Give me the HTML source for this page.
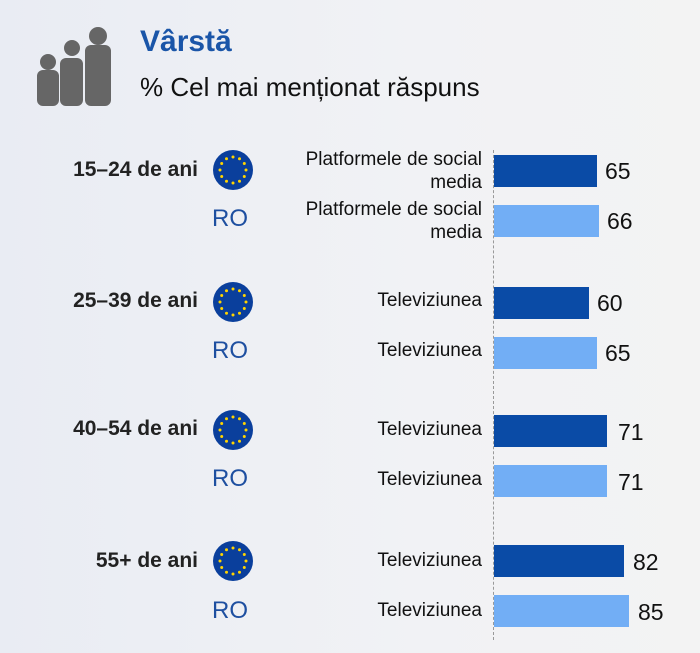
<!DOCTYPE html>
<html><head><meta charset="utf-8"><style>
body{margin:0;width:700px;height:653px;overflow:hidden;background:linear-gradient(90deg,#e9ecf3 0%,#f1f2f5 60%,#f3f3f3 100%);font-family:"Liberation Sans",sans-serif;position:relative}
.a{position:absolute}
.age{font-weight:bold;font-size:21px;color:#222;text-align:right;width:180px;left:18px}
.ro{font-size:24px;color:#1e4fa0;left:212px}
.lab{font-size:19px;color:#111;text-align:right;width:240px;left:242px;line-height:23px}
.bar{left:494px;height:32px}
.d{background:#0a4ba6}.l{background:#72aef5}
.v{font-size:23px;color:#111}
</style></head><body>
<svg class="a" style="left:34px;top:26px" width="82" height="80" viewBox="0 0 82 80">
<g fill="#666">
<circle cx="14" cy="36" r="8"/><rect x="3" y="44" width="22" height="36" rx="6"/>
<circle cx="38" cy="22" r="8"/><rect x="26" y="32" width="23" height="48" rx="6"/>
<circle cx="64" cy="10" r="9"/><rect x="51" y="19" width="26" height="61" rx="6"/>
</g></svg>
<div class="a" style="left:140px;top:25px;font-size:30px;font-weight:bold;color:#1a55a8">Vârstă</div>
<div class="a" style="left:140px;top:72px;font-size:26px;color:#111">% Cel mai menționat răspuns</div>
<div class="a" style="left:493px;top:150px;height:490px;border-left:1px dashed #999"></div>

<svg width="0" height="0" style="position:absolute"><defs><g id="eu"><circle r="20" fill="#0a3f9c"/><g fill="#ffd400"><circle cx="0" cy="-13" r="1.5"/><circle cx="6.5" cy="-11.3" r="1.5"/><circle cx="11.3" cy="-6.5" r="1.5"/><circle cx="13" cy="0" r="1.5"/><circle cx="11.3" cy="6.5" r="1.5"/><circle cx="6.5" cy="11.3" r="1.5"/><circle cx="0" cy="13" r="1.5"/><circle cx="-6.5" cy="11.3" r="1.5"/><circle cx="-11.3" cy="6.5" r="1.5"/><circle cx="-13" cy="0" r="1.5"/><circle cx="-11.3" cy="-6.5" r="1.5"/><circle cx="-6.5" cy="-11.3" r="1.5"/></g></g></defs></svg>

<div class="a age" style="top:158px">15–24 de ani</div>
<svg class="a" style="left:213px;top:150px" width="40" height="40"><use href="#eu" x="20" y="20"/></svg>
<div class="a ro" style="top:205px">RO</div>
<div class="a lab" style="top:148px">Platformele de social<br>media</div>
<div class="a bar d" style="top:155px;width:103px"></div><div class="a v" style="left:605px;top:158px">65</div>
<div class="a lab" style="top:198px">Platformele de social<br>media</div>
<div class="a bar l" style="top:205px;width:105px"></div><div class="a v" style="left:607px;top:208px">66</div>

<div class="a age" style="top:289px">25–39 de ani</div>
<svg class="a" style="left:213px;top:282px" width="40" height="40"><use href="#eu" x="20" y="20"/></svg>
<div class="a ro" style="top:337px">RO</div>
<div class="a lab" style="top:289px">Televiziunea</div>
<div class="a bar d" style="top:287px;width:95px"></div><div class="a v" style="left:597px;top:290px">60</div>
<div class="a lab" style="top:339px">Televiziunea</div>
<div class="a bar l" style="top:337px;width:103px"></div><div class="a v" style="left:605px;top:340px">65</div>

<div class="a age" style="top:417px">40–54 de ani</div>
<svg class="a" style="left:213px;top:410px" width="40" height="40"><use href="#eu" x="20" y="20"/></svg>
<div class="a ro" style="top:465px">RO</div>
<div class="a lab" style="top:418px">Televiziunea</div>
<div class="a bar d" style="top:415px;width:113px"></div><div class="a v" style="left:618px;top:419px">71</div>
<div class="a lab" style="top:468px">Televiziunea</div>
<div class="a bar l" style="top:465px;width:113px"></div><div class="a v" style="left:618px;top:469px">71</div>

<div class="a age" style="top:549px">55+ de ani</div>
<svg class="a" style="left:213px;top:541px" width="40" height="40"><use href="#eu" x="20" y="20"/></svg>
<div class="a ro" style="top:597px">RO</div>
<div class="a lab" style="top:549px">Televiziunea</div>
<div class="a bar d" style="top:545px;width:130px"></div><div class="a v" style="left:633px;top:549px">82</div>
<div class="a lab" style="top:599px">Televiziunea</div>
<div class="a bar l" style="top:595px;width:135px"></div><div class="a v" style="left:638px;top:599px">85</div>
</body></html>
